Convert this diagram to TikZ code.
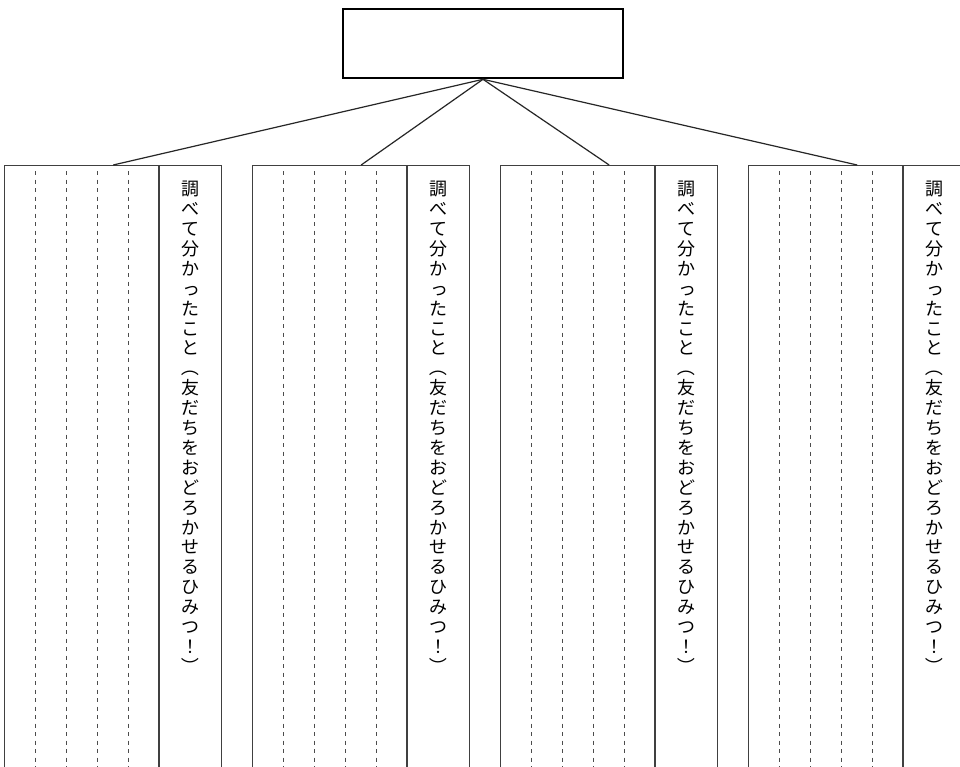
\documentclass[tikz,border=0pt]{standalone}
\usepackage{fontspec}
\newfontfamily\jpfont{Noto Sans CJK JP}
\usetikzlibrary{positioning}
\newcommand\smallkana[1]{\hspace*{0.22em}#1}
\newcommand\tatebrk[1]{\rotatebox[origin=c]{-90}{#1}}

\begin{document}
\begin{tikzpicture}[x=1pt, y=-1pt,
        title/.style={draw, line width=2.6pt, minimum width=280pt, minimum height=69pt, inner sep=0pt},
        frame/.style={draw=black!75, line width=1.3pt, minimum width=217pt, minimum height=640pt, inner sep=0pt, anchor=north west},
        guide/.style={draw=black!70, dash pattern=on 4pt off 4.5pt, line width=0.9pt},
        link/.style={draw=black!85, line width=1.2pt},
        tate/.style={font=\jpfont\fontsize{18}{19.9}\selectfont, align=center, inner sep=0pt, anchor=north},
    ]
        \useasboundingbox (0,0) rectangle (960,766);
        \fill[white] (0,0) rectangle (960,766);
        \clip (0,0) rectangle (960,766);
        \node[title] (T) at (483,43.5) {};
        \foreach \i in {1,...,4} {
            \node[frame] (col\i) at ({4+248*(\i-1)},165) {};
            \draw[link] (T.south) -- (col\i.north);
            \draw[black!75, line width=1.3pt] ([xshift=155pt]col\i.north west) -- ([xshift=155pt]col\i.south west);
            \foreach \k in {1,...,4} { \draw[guide] ([xshift=\k*31pt, yshift=-6pt]col\i.north west) -- ([xshift=\k*31pt]col\i.south west); }
            \node[tate] (txt\i) at ([xshift=186pt, yshift=-16pt]col\i.north west)
                {調\\べ\\て\\分\\か\\\smallkana{っ}\\た\\こ\\と\\\tatebrk{（}\\友\\だ\\ち\\を\\お\\ど\\ろ\\か\\せ\\る\\ひ\\み\\つ\\！\\\tatebrk{）}};
        }
    \end{tikzpicture}
\end{document}
